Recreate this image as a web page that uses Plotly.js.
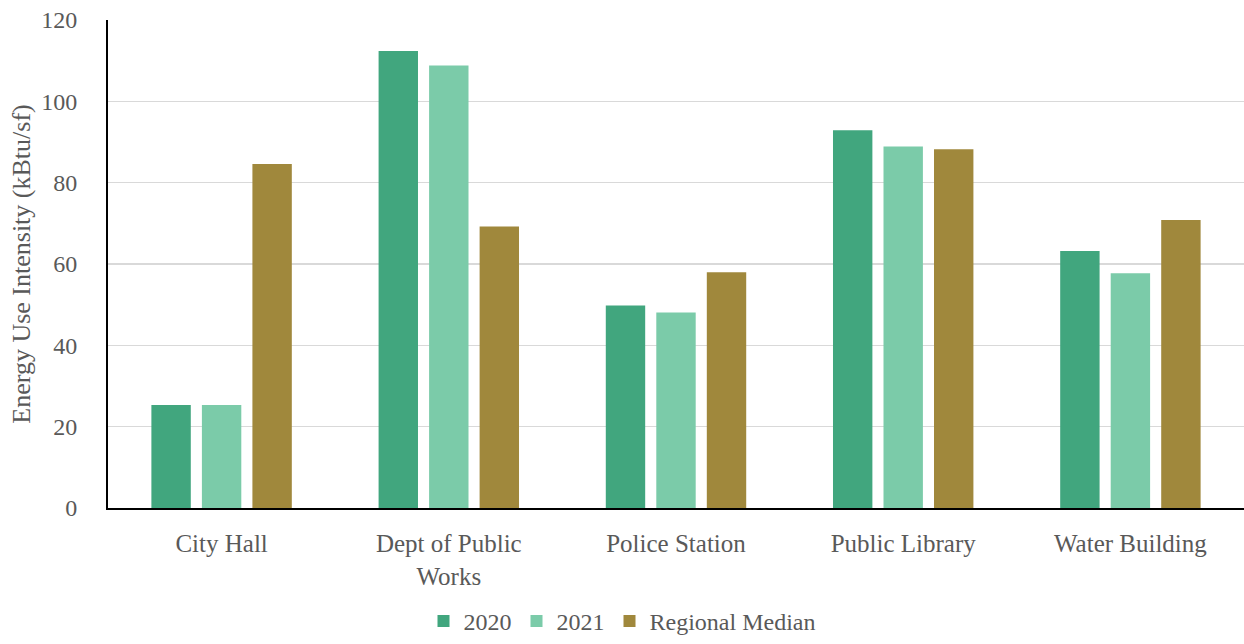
<!DOCTYPE html>
<html>
<head>
<meta charset="utf-8">
<script src="https://cdn.plot.ly/plotly-3.0.1.min.js"></script>
<style>html,body{margin:0;padding:0;background:#fff;}#chart{width:1244px;height:644px;}</style>
</head>
<body>
<div id="chart"></div>
<script>
const categories = ["City Hall", "Dept of Public<br>Works", "Police Station", "Public Library", "Water Building"];
const values2020 = [25.3, 112.4, 49.8, 92.9, 63.2];
const values2021 = [25.3, 108.8, 48.1, 88.9, 57.7];
const regionalMedian = [84.6, 69.2, 58.0, 88.2, 70.8];
const seriesNames = ["2020", "2021", "Regional Median"];
const colors = ["#41A67E", "#7BCBA9", "#A0883C"];
const yTicks = [0, 20, 40, 60, 80, 100, 120];

const FONT = "Liberation Serif, serif";
const TXT = "#595959";

const data = [values2020, values2021, regionalMedian].map((v, i) => ({
  type: "bar",
  name: seriesNames[i],
  x: categories,
  y: v,
  marker: {color: colors[i]},
  hoverinfo: "x+y+name"
}));

const layout = {
  width: 1244, height: 644,
  margin: {l: 108, r: 0, t: 20, b: 136},
  paper_bgcolor: "#fff", plot_bgcolor: "#fff",
  font: {family: FONT, color: TXT, size: 25},
  barmode: "group",
  bargap: 0.333,
  bargroupgap: 0.22,
  showlegend: true,
  legend: {orientation: "h", x: 0.5, xanchor: "center", xref: "container",
           y: -0.01, yanchor: "bottom", yref: "container",
           font: {family: FONT, size: 24, color: TXT}, itemwidth: 30, traceorder: "normal"},
  xaxis: {
    showgrid: false, showline: true, linecolor: "#000", linewidth: 2,
    ticks: "", ticklabelstandoff: 12, tickfont: {family: FONT, size: 25, color: TXT},
    automargin: false, fixedrange: true
  },
  yaxis: {
    range: [0, 120], tickvals: yTicks, ticktext: yTicks.map(String),
    showgrid: true, gridcolor: "#d9d9d9", gridwidth: 1.5,
    showline: true, linecolor: "#000", linewidth: 2, zeroline: false,
    ticks: "", ticklabelstandoff: 24,
    tickfont: {family: FONT, size: 24, color: TXT},
    title: {text: "Energy Use Intensity (kBtu/sf)", font: {family: FONT, size: 26, color: TXT}, standoff: 3},
    automargin: false, fixedrange: true
  }
};

Plotly.newPlot("chart", data, layout, {displayModeBar: false, staticPlot: true});
</script>
</body>
</html>
